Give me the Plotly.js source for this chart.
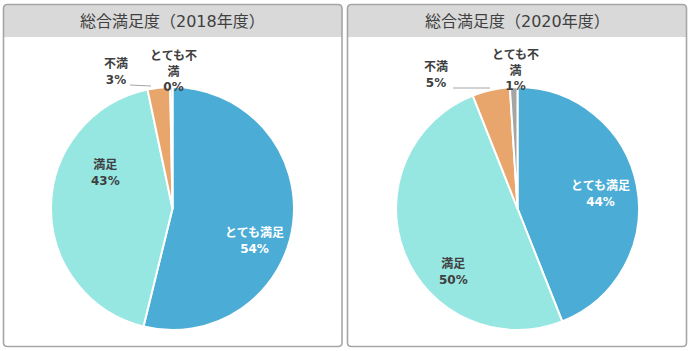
<!DOCTYPE html>
<html>
<head>
<meta charset="utf-8">
<script src="https://cdn.plot.ly/plotly-3.0.1.min.js"></script>
<style>html,body{margin:0;padding:0;background:#fff;}#chart{width:690px;height:351px;}</style>
</head>
<body>
<div id="chart"></div>
<script>
const categories = ['とても満足', '満足', '不満', 'とても不満'];
const displayLabels = ['とても満足', '満足', '不満', 'とても不<br>満'];
const values2018 = [54, 43, 3, 0.3];
const values2020 = [44, 50, 5, 1];
const titles = ['総合満足度（2018年度）', '総合満足度（2020年度）'];
const colors = ['#4BACD6', '#96E6E1', '#E9A66C', '#A5A5A5'];
const labelColors = ['#ffffff', '#404040', '#404040', '#404040'];

const W = 690, H = 351;
const FONT = '"DejaVu Sans", "Noto Sans CJK JP", sans-serif';
const px = x => x / W;
const py = y => 1 - y / H;

function pct(vals, i) {
  const s = vals.reduce((a, b) => a + b, 0);
  return Math.round(vals[i] / s * 100) + '%';
}

function pieTrace(vals, dx) {
  return {
    type: 'pie',
    labels: categories,
    values: vals,
    sort: false,
    direction: 'clockwise',
    rotation: 0,
    domain: {x: dx, y: [py(330), py(87)]},
    marker: {colors: colors, line: {color: '#ffffff', width: 2}},
    textinfo: 'none',
    hoverinfo: 'label+percent',
    showlegend: false
  };
}

function roundRect(x0, y0, x1, y1, r) {
  const X = px, Y = py;
  return 'M' + X(x0 + r) + ',' + Y(y0) +
    ' L' + X(x1 - r) + ',' + Y(y0) +
    ' Q' + X(x1) + ',' + Y(y0) + ' ' + X(x1) + ',' + Y(y0 + r) +
    ' L' + X(x1) + ',' + Y(y1 - r) +
    ' Q' + X(x1) + ',' + Y(y1) + ' ' + X(x1 - r) + ',' + Y(y1) +
    ' L' + X(x0 + r) + ',' + Y(y1) +
    ' Q' + X(x0) + ',' + Y(y1) + ' ' + X(x0) + ',' + Y(y1 - r) +
    ' L' + X(x0) + ',' + Y(y0 + r) +
    ' Q' + X(x0) + ',' + Y(y0) + ' ' + X(x0 + r) + ',' + Y(y0) + ' Z';
}
function topBar(x0, y0, x1, y1, r) {
  const X = px, Y = py;
  return 'M' + X(x0 + r) + ',' + Y(y0) +
    ' L' + X(x1 - r) + ',' + Y(y0) +
    ' Q' + X(x1) + ',' + Y(y0) + ' ' + X(x1) + ',' + Y(y0 + r) +
    ' L' + X(x1) + ',' + Y(y1) +
    ' L' + X(x0) + ',' + Y(y1) +
    ' L' + X(x0) + ',' + Y(y0 + r) +
    ' Q' + X(x0) + ',' + Y(y0) + ' ' + X(x0 + r) + ',' + Y(y0) + ' Z';
}

const panels = [[3.5, 342], [347.5, 686.5]];
const shapes = [];
const annotations = [];
panels.forEach((p, k) => {
  shapes.push({type: 'path', xref: 'paper', yref: 'paper', path: topBar(p[0], 4.5, p[1], 37, 4), fillcolor: '#D9D9D9', line: {width: 0}, layer: 'below'});
  shapes.push({type: 'path', xref: 'paper', yref: 'paper', path: roundRect(p[0], 4.5, p[1], 346.5, 4), fillcolor: 'rgba(0,0,0,0)', line: {color: '#A6A6A6', width: 1.6}, layer: 'below'});
  annotations.push({xref: 'paper', yref: 'paper', x: px((p[0] + p[1]) / 2), y: py(21), text: titles[k], showarrow: false, xanchor: 'center', yanchor: 'middle', font: {family: FONT, size: 16, color: '#404040'}});
});

// label anchor positions (pixel centres) for each slice, and leader lines for 不満
const labelPos = [
  {vals: values2018, pos: [[255, 240], [105, 173], [116, 72], [173, 71]], fline: [130, 85, 151, 86]},
  {vals: values2020, pos: [[600, 193], [453, 271], [436, 74], [515, 70]], fline: [453, 88, 490, 88]}
];
labelPos.forEach(s => {
  s.pos.forEach((p, i) => {
    annotations.push({xref: 'paper', yref: 'paper', x: px(p[0]), y: py(p[1]),
      text: displayLabels[i] + '<br>' + pct(s.vals, i), showarrow: false,
      xanchor: 'center', yanchor: 'middle',
      font: {family: FONT, size: 12, color: labelColors[i], weight: 'bold'}});
  });
  shapes.push({type: 'line', xref: 'paper', yref: 'paper', x0: px(s.fline[0]), y0: py(s.fline[1]), x1: px(s.fline[2]), y1: py(s.fline[3]), line: {color: '#A6A6A6', width: 1}});
});

const data = [
  pieTrace(values2018, [px(172.5 - 150), px(172.5 + 150)]),
  pieTrace(values2020, [px(517.5 - 150), px(517.5 + 150)])
];

const layout = {
  width: W, height: H,
  margin: {l: 0, r: 0, t: 0, b: 0},
  paper_bgcolor: '#ffffff',
  font: {family: FONT},
  shapes: shapes,
  annotations: annotations,
  showlegend: false
};

Plotly.newPlot('chart', data, layout, {displayModeBar: false, staticPlot: true});
</script>
</body>
</html>
